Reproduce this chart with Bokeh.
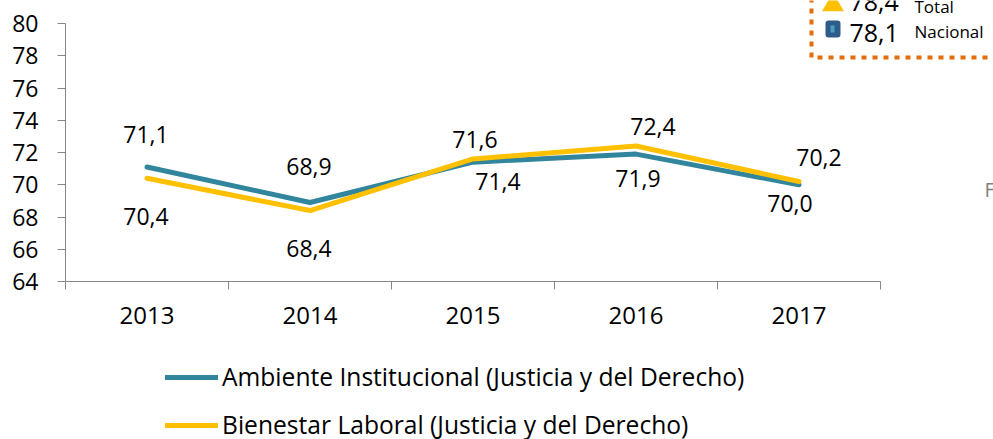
from bokeh.plotting import figure
from bokeh.models import (Range1d, LinearAxis, FixedTicker, Legend, LegendItem, Label,
                          BoxAnnotation, PolyAnnotation)
from bokeh.core.properties import value
from bokeh.embed import file_html
from bokeh.resources import INLINE

# ---------------- data ----------------
years = ["2013", "2014", "2015", "2016", "2017"]
ambiente = [71.1, 68.9, 71.4, 71.9, 70.0]
bienestar = [70.4, 68.4, 71.6, 72.4, 70.2]
y_ticks = [64, 66, 68, 70, 72, 74, 76, 78, 80]
series_names = ["Ambiente Institucional (Justicia y del Derecho)",
                "Bienestar Laboral (Justicia y del Derecho)"]
total_value = 78.4
nacional_value = 78.1
total_name = "Total"
nacional_name = "Nacional"

# label placement offsets (screen px), style only
amb_dx = [-1, -1, 25, 2, -9]
amb_dy = [-33, -36, 19, 24, 19]
bie_dx = [-1, -1, 2, 17, 20]
bie_dy = [38, 38, -19, -20, -24]

FONT = "Open Sans"
BLUE = "#31859C"
YELLOW = "#FFC000"
AXIS = "#868686"

# layout: the axes occupy canvas x 65..880 and y 23..281; the frame covers
# the whole canvas and the axes are drawn at fixed locations inside it.
W, H = 993, 439
AX_L, AX_R, AX_T, AX_B = 65, 880, 23, 281


def fmt(v):
    return f"{v:.1f}".replace(".", ",")


n = len(years)
xpos = [i + 0.5 for i in range(n)]
y0, y1 = y_ticks[0], y_ticks[-1]
px_x = (AX_R - AX_L) / n
px_y = (AX_B - AX_T) / (y1 - y0)
x_range = Range1d(-AX_L / px_x, (W - AX_L) / px_x)
y_range = Range1d(y0 - (H - AX_B) / px_y, y1 + AX_T / px_y)

p = figure(width=W, height=H, output_backend="svg", toolbar_location=None,
           x_range=x_range, y_range=y_range,
           x_axis_location=None, y_axis_location=None, min_border=0)
p.outline_line_color = None
p.background_fill_color = "white"
p.border_fill_color = "white"
for g in p.grid:
    g.visible = False

yaxis = LinearAxis(ticker=FixedTicker(ticks=y_ticks), bounds=(y0, y1), fixed_location=0)
yaxis.axis_line_color = AXIS
yaxis.major_tick_line_color = AXIS
yaxis.major_tick_out = 8
yaxis.major_tick_in = 0
yaxis.minor_tick_line_color = None
yaxis.major_label_standoff = 19
yaxis.major_label_text_font = FONT
yaxis.major_label_text_font_size = "23px"
yaxis.major_label_text_color = "black"
p.add_layout(yaxis, "left")

xaxis = LinearAxis(ticker=FixedTicker(ticks=xpos, minor_ticks=list(range(n + 1))),
                   bounds=(0, n), fixed_location=y0)
xaxis.major_label_overrides = {x: y for x, y in zip(xpos, years)}
xaxis.axis_line_color = AXIS
xaxis.major_tick_line_color = None
xaxis.major_tick_out = 8
xaxis.major_tick_in = 0
xaxis.minor_tick_line_color = AXIS
xaxis.minor_tick_out = 8
xaxis.minor_tick_in = 0
xaxis.major_label_standoff = 17
xaxis.major_label_text_font = FONT
xaxis.major_label_text_font_size = "24px"
xaxis.major_label_text_color = "black"
p.add_layout(xaxis, "below")

r1 = p.line(xpos, ambiente, line_color=BLUE, line_width=5, line_join="round", line_cap="round")
r2 = p.line(xpos, bienestar, line_color=YELLOW, line_width=5, line_join="round", line_cap="round")

p.text(x=xpos, y=ambiente, text=[fmt(v) for v in ambiente], x_offset=amb_dx, y_offset=amb_dy,
       text_align="center", text_baseline="middle", text_font=value(FONT),
       text_font_size="23px", text_color="black")
p.text(x=xpos, y=bienestar, text=[fmt(v) for v in bienestar], x_offset=bie_dx, y_offset=bie_dy,
       text_align="center", text_baseline="middle", text_font=value(FONT),
       text_font_size="23px", text_color="black")

legend = Legend(items=[LegendItem(label=series_names[0], renderers=[r1]),
                       LegendItem(label=series_names[1], renderers=[r2])],
                location=(165, -2), orientation="vertical",
                glyph_width=53, glyph_height=26, label_height=26, label_standoff=4,
                spacing=15, padding=0, margin=0,
                border_line_color=None, background_fill_alpha=0,
                label_text_font=FONT, label_text_font_size="24.6px", label_text_color="black")
p.add_layout(legend)

# top-right reference box (partially outside the canvas)
C = dict(left_units="canvas", right_units="canvas", top_units="canvas", bottom_units="canvas")
p.add_layout(BoxAnnotation(left=811, right=1020, top=-20, bottom=57, **C,
                           fill_alpha=0, line_color="#E46C0A", line_width=4,
                           line_dash="5 6", line_alpha=1))
p.add_layout(PolyAnnotation(xs=[821.5, 843.5, 832.5], ys=[10.7, 10.7, -8],
                            xs_units="canvas", ys_units="canvas",
                            fill_color=YELLOW, fill_alpha=1, line_color=None))
p.add_layout(BoxAnnotation(left=825, right=840, top=20, bottom=37, **C,
                           fill_color="#2E5C8A", fill_alpha=1, line_color=None,
                           border_radius=3))
p.add_layout(BoxAnnotation(left=830, right=834, top=25, bottom=32, **C,
                           fill_color="#4F9AC0", fill_alpha=1, line_color=None))
for txt, yy, size, xx in [(fmt(total_value), 1, "25px", 849), (total_name, 6, "17px", 914),
                          (fmt(nacional_value), 32, "25px", 849), (nacional_name, 31, "17px", 914)]:
    p.add_layout(Label(x=xx, y=yy, x_units="canvas", y_units="canvas", text=txt,
                       text_baseline="alphabetic", text_align="left",
                       text_font=FONT, text_font_size=size, text_color="black"))
p.add_layout(Label(x=984, y=189, x_units="canvas", y_units="canvas", text="F",
                   text_baseline="alphabetic", text_align="left",
                   text_font=FONT, text_font_size="20px", text_color="#7F7F7F"))

open("out.html", "w").write(file_html(p, INLINE))
